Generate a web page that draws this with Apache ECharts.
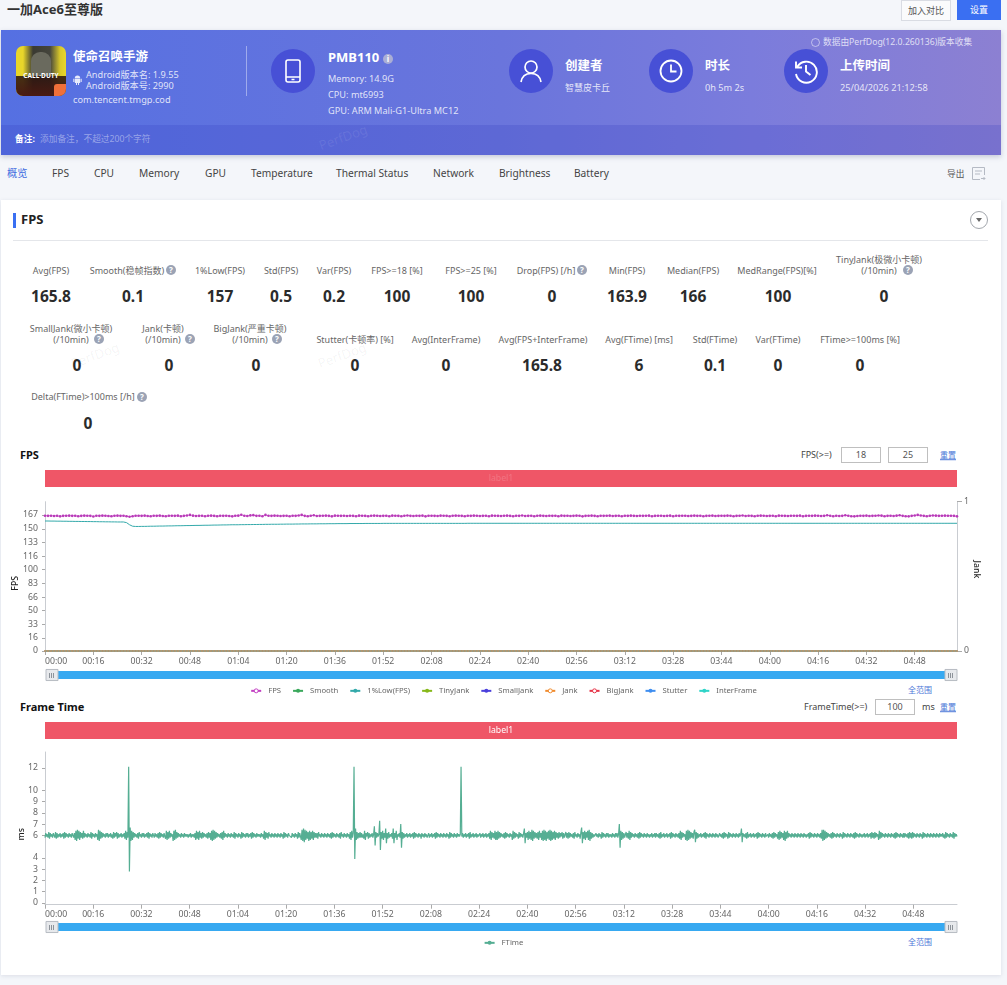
<!DOCTYPE html>
<html lang="zh-CN"><head><meta charset="utf-8"><title>一加Ace6至尊版</title>
<script src="https://cdn.jsdelivr.net/npm/echarts@6/dist/echarts.min.js"></script>
<style>
html,body{margin:0;padding:0;width:1007px;height:985px;overflow:hidden;background:#f4f6fa;font-family:"Noto Sans","Noto Sans CJK SC",sans-serif;color:#444}
.t{position:absolute;white-space:nowrap;line-height:1.2;transform:translateY(-50%)}
.c{transform:translate(-50%,-50%)}
.banner{position:absolute;left:1px;top:30px;width:1000px;height:125px;background:linear-gradient(90deg,#5570e2 0%,#6a75dc 50%,#7b7cdc 75%,#8c80d2 100%);box-shadow:0 2px 5px rgba(60,70,120,.25)}
.strip{position:absolute;left:1px;top:125px;width:1000px;height:30px;background:rgba(50,60,190,.22)}
.w{color:#fff}.s{color:rgba(255,255,255,.82);font-size:9.2px}
.h{color:#fff;font-weight:700;font-size:12.5px}
.circle{position:absolute;width:44px;height:44px;border-radius:50%;background:#4750d6}
.circle svg{position:absolute;left:9px;top:9px}
.card{position:absolute;left:1px;top:200px;width:1000px;height:775px;background:#fff;box-shadow:0 1px 4px rgba(80,90,120,.15)}
.nav{font-size:10.2px;color:#444}
.l{font-size:9px;color:#666}
.v{font-size:15.5px;font-weight:700;color:#2b2b2b}
.q{position:absolute;width:10px;height:10px;border-radius:50%;background:#9ba3b5;color:#fff;font-size:8px;line-height:10px;text-align:center;font-weight:700;transform:translate(-50%,-50%)}
.box{position:absolute;height:14px;border:1px solid #bfbfbf;font-size:9px;line-height:14px;text-align:center;color:#555;background:#fff}
.link{color:#4d78d8;font-size:8px;text-decoration:underline}
.wm{position:absolute;font-size:13px;color:rgba(0,0,0,.05);transform:translate(-50%,-50%) rotate(-20deg);white-space:nowrap}
#main{position:absolute;left:0;top:0;width:1007px;height:985px}
.grip{position:absolute;width:5px;height:5px;z-index:3;background:repeating-linear-gradient(90deg,#8d939a 0 1px,transparent 1px 2px)}
</style></head><body>
<div class="t" style="left:7px;top:10px;font-size:13px;font-weight:700;color:#333">一加Ace6至尊版</div>
<div style="position:absolute;left:901px;top:0;width:48px;height:19px;border:1px solid #d9dce3;background:#fafbfc;font-size:9px;line-height:19px;text-align:center;color:#555">加入对比</div>
<div style="position:absolute;left:957px;top:0;width:44px;height:20px;background:#3a6ff2;font-size:9px;line-height:20px;text-align:center;color:#fff">设置</div>

<div class="banner"></div><div class="strip"></div>
<div style="position:absolute;left:16px;top:46px;width:50px;height:50px;border-radius:7px;overflow:hidden;background:linear-gradient(90deg,#e8d62a 0%,#e8d62a 14%,#3a3a32 34%,#45453c 68%,#d9c82a 88%,#e8d62a 100%)">
  <div style="position:absolute;left:0;top:30px;width:50px;height:20px;background:linear-gradient(180deg,rgba(40,20,15,.85),#4a1a12)"></div>
  <div style="position:absolute;left:15px;top:6px;width:20px;height:24px;border-radius:9px 9px 4px 4px;background:#6a6a5e"></div>
  <div style="position:absolute;left:0;top:27px;width:50px;text-align:center;font-size:6.5px;font-weight:700;color:#fff;line-height:1">CALL·DUTY</div>
  <div style="position:absolute;left:38px;top:38px;width:12px;height:12px;background:#f0703a;border-radius:3px 0 0 0"></div>
</div>
<div class="t h" style="left:73px;top:56px">使命召唤手游</div>
<svg style="position:absolute;left:73px;top:75px" width="9" height="10" viewBox="0 0 9 10" fill="rgba(255,255,255,.85)"><path d="M1.8 3.2A2.7 2.7 0 0 1 7.2 3.2ZM1.8 3.7H7.2V7.6Q7.2 8.1 6.7 8.1H6V10H5V8.1H4V10H3V8.1H2.3Q1.8 8.1 1.8 7.6ZM.3 3.7H1.3V7H.3ZM7.7 3.7H8.7V7H7.7Z"/></svg>
<div class="t s" style="left:86px;top:75px">Android版本名: 1.9.55</div>
<div class="t s" style="left:86px;top:86px">Android版本号: 2990</div>
<div class="t s" style="left:73px;top:100px">com.tencent.tmgp.cod</div>
<div style="position:absolute;left:246px;top:46px;width:1px;height:50px;background:rgba(255,255,255,.4)"></div>

<div class="circle" style="left:271px;top:49px"><svg width="26" height="26" viewBox="0 0 26 26" fill="none" stroke="#fff" stroke-width="1.6"><rect x="6" y="2" width="14" height="22" rx="2"/><path d="M6 19H20M11.5 21.5H14.5"/></svg></div>
<div class="t h" style="left:328px;top:58px;font-size:13px">PMB110</div>
<div class="q" style="left:388px;top:59px;background:rgba(200,200,210,.7)">i</div>
<div class="t s" style="left:328px;top:79px">Memory: 14.9G</div>
<div class="t s" style="left:328px;top:95px">CPU: mt6993</div>
<div class="t s" style="left:328px;top:111px">GPU: ARM Mali-G1-Ultra MC12</div>

<div class="circle" style="left:509px;top:49px"><svg width="26" height="26" viewBox="0 0 26 26" fill="none" stroke="#fff" stroke-width="1.7"><circle cx="13" cy="9" r="6"/><path d="M3 24C4 18 8 15.5 13 15.5S22 18 23 24"/></svg></div>
<div class="t h" style="left:565px;top:65px">创建者</div>
<div class="t s" style="left:565px;top:88px;font-size:9px">智慧皮卡丘</div>
<div class="circle" style="left:649px;top:49px"><svg width="26" height="26" viewBox="0 0 26 26" fill="none" stroke="#fff" stroke-width="1.8"><circle cx="13" cy="13" r="10.5"/><path d="M13 6.5V13.5H18.5"/></svg></div>
<div class="t h" style="left:705px;top:65px">时长</div>
<div class="t s" style="left:705px;top:88px">0h 5m 2s</div>
<div class="circle" style="left:784px;top:49px"><svg width="26" height="26" viewBox="0 0 26 26" fill="none" stroke="#fff" stroke-width="1.9"><path d="M4.2 9A10.5 10.5 0 1 1 3 16"/><path d="M3 3.5V9.5H9"/><path d="M13 7V13.5L17.5 17"/></svg></div>
<div class="t h" style="left:840px;top:65px">上传时间</div>
<div class="t s" style="left:840px;top:88px">25/04/2026 21:12:58</div>
<div style="position:absolute;left:811px;top:38px;width:7px;height:7px;border:1px solid rgba(255,255,255,.5);border-radius:50%"></div>
<div class="t s" style="left:823px;top:42px;font-size:8.7px;color:rgba(255,255,255,.75)">数据由PerfDog(12.0.260136)版本收集</div>
<div class="t" style="left:15px;top:139px;font-size:8.7px;font-weight:700;color:#fff">备注:</div>
<div class="t" style="left:40px;top:139px;font-size:8.7px;color:rgba(255,255,255,.42)">添加备注，不超过200个字符</div>
<div class="wm" style="left:343px;top:137px;color:rgba(255,255,255,.09)">PerfDog</div>

<div class="t nav" style="left:7px;top:173px;color:#3f6ce0">概览</div>
<div class="t nav" style="left:52px;top:173px">FPS</div>
<div class="t nav" style="left:94px;top:173px">CPU</div>
<div class="t nav" style="left:139px;top:173px">Memory</div>
<div class="t nav" style="left:205px;top:173px">GPU</div>
<div class="t nav" style="left:251px;top:173px">Temperature</div>
<div class="t nav" style="left:336px;top:173px">Thermal Status</div>
<div class="t nav" style="left:433px;top:173px">Network</div>
<div class="t nav" style="left:499px;top:173px">Brightness</div>
<div class="t nav" style="left:574px;top:173px">Battery</div>
<div class="t" style="left:947px;top:174px;font-size:8.7px;color:#555">导出</div>
<svg style="position:absolute;left:971px;top:166px" width="15" height="15" viewBox="0 0 15 15" fill="none" stroke="#b5bac4"><path d="M1.5 1.5H13.5V9M1.5 1.5V13.5H9M4 5H11M4 8H9M10 12.5H14M12.5 11L14 12.5L12.5 14"/></svg>

<div class="card"></div>
<div style="position:absolute;left:13px;top:213px;width:3px;height:15px;background:#3a6ff2"></div>
<div class="t" style="left:21px;top:220px;font-size:13px;font-weight:700;color:#222">FPS</div>
<div style="position:absolute;left:13px;top:240px;width:975px;height:1px;background:#e4e6ea"></div>
<div style="position:absolute;left:970px;top:211px;width:16px;height:16px;border:1px solid #a3a7ad;border-radius:50%"></div>
<div style="position:absolute;left:976px;top:218px;border:3px solid transparent;border-top:4px solid #666"></div>

<div class="t c l" style="left:51px;top:271px">Avg(FPS)</div><div class="t c v" style="left:51px;top:296px">165.8</div>
<div class="t c l" style="left:127px;top:271px">Smooth(稳帧指数)</div><div class="q" style="left:171px;top:270px">?</div><div class="t c v" style="left:133px;top:296px">0.1</div>
<div class="t c l" style="left:220px;top:271px">1%Low(FPS)</div><div class="t c v" style="left:220px;top:296px">157</div>
<div class="t c l" style="left:281px;top:271px">Std(FPS)</div><div class="t c v" style="left:281px;top:296px">0.5</div>
<div class="t c l" style="left:334px;top:271px">Var(FPS)</div><div class="t c v" style="left:334px;top:296px">0.2</div>
<div class="t c l" style="left:397px;top:271px">FPS&gt;=18 [%]</div><div class="t c v" style="left:397px;top:296px">100</div>
<div class="t c l" style="left:471px;top:271px">FPS&gt;=25 [%]</div><div class="t c v" style="left:471px;top:296px">100</div>
<div class="t c l" style="left:546px;top:271px">Drop(FPS) [/h]</div><div class="q" style="left:582px;top:270px">?</div><div class="t c v" style="left:552px;top:296px">0</div>
<div class="t c l" style="left:627px;top:271px">Min(FPS)</div><div class="t c v" style="left:627px;top:296px">163.9</div>
<div class="t c l" style="left:693px;top:271px">Median(FPS)</div><div class="t c v" style="left:693px;top:296px">166</div>
<div class="t c l" style="left:777px;top:271px">MedRange(FPS)[%]</div><div class="t c v" style="left:778px;top:296px">100</div>
<div class="t c l" style="left:879px;top:260px">TinyJank(极微小卡顿)</div><div class="t c l" style="left:879px;top:271px">(/10min)</div><div class="q" style="left:908px;top:270px">?</div><div class="t c v" style="left:884px;top:296px">0</div>

<div class="t c l" style="left:71px;top:329px">SmallJank(微小卡顿)</div><div class="t c l" style="left:71px;top:340px">(/10min)</div><div class="q" style="left:99px;top:339px">?</div><div class="t c v" style="left:77px;top:365px">0</div>
<div class="t c l" style="left:163px;top:329px">Jank(卡顿)</div><div class="t c l" style="left:163px;top:340px">(/10min)</div><div class="q" style="left:190px;top:339px">?</div><div class="t c v" style="left:169px;top:365px">0</div>
<div class="t c l" style="left:250px;top:329px">BigJank(严重卡顿)</div><div class="t c l" style="left:250px;top:340px">(/10min)</div><div class="q" style="left:277px;top:339px">?</div><div class="t c v" style="left:256px;top:365px">0</div>
<div class="t c l" style="left:355px;top:340px">Stutter(卡顿率) [%]</div><div class="t c v" style="left:355px;top:365px">0</div>
<div class="t c l" style="left:446px;top:340px">Avg(InterFrame)</div><div class="t c v" style="left:446px;top:365px">0</div>
<div class="t c l" style="left:543px;top:340px">Avg(FPS+InterFrame)</div><div class="t c v" style="left:542px;top:365px">165.8</div>
<div class="t c l" style="left:639px;top:340px">Avg(FTime) [ms]</div><div class="t c v" style="left:639px;top:365px">6</div>
<div class="t c l" style="left:715px;top:340px">Std(FTime)</div><div class="t c v" style="left:715px;top:365px">0.1</div>
<div class="t c l" style="left:778px;top:340px">Var(FTime)</div><div class="t c v" style="left:778px;top:365px">0</div>
<div class="t c l" style="left:860px;top:340px">FTime&gt;=100ms [%]</div><div class="t c v" style="left:860px;top:365px">0</div>
<div class="t c l" style="left:83px;top:397px">Delta(FTime)&gt;100ms [/h]</div><div class="q" style="left:142px;top:397px">?</div><div class="t c v" style="left:88px;top:423px">0</div>
<div class="wm" style="left:95px;top:355px">PerfDog</div><div class="wm" style="left:342px;top:355px">PerfDog</div>

<div class="t" style="left:20px;top:455px;font-size:11px;font-weight:700;color:#111">FPS</div>
<div class="t l" style="left:801px;top:455px;color:#444">FPS(&gt;=)</div>
<div class="box" style="left:841px;top:447px;width:38px">18</div>
<div class="box" style="left:888px;top:447px;width:38px">25</div>
<div class="t link" style="left:940px;top:455px">重置</div>
<div class="t link" style="left:908px;top:690px;text-decoration:none">全范围</div>

<div class="t" style="left:20px;top:707px;font-size:11px;font-weight:700;color:#111">Frame Time</div>
<div class="t l" style="left:804px;top:707px;color:#444">FrameTime(&gt;=)</div>
<div class="box" style="left:875px;top:699px;width:38px">100</div>
<div class="t l" style="left:922px;top:707px;color:#444">ms</div>
<div class="t link" style="left:940px;top:707px">重置</div>
<div class="t link" style="left:908px;top:942px;text-decoration:none">全范围</div>

<div id="main"></div>
<div class="grip" style="left:49px;top:673px"></div><div class="grip" style="left:948px;top:673px"></div>
<div class="grip" style="left:49px;top:925px"></div><div class="grip" style="left:948px;top:925px"></div>

<script>
// FPS per second (0 s .. 302 s)
const fpsValues = [
166.0,165.9,166.1,165.8,166.0,165.3,165.9,166.0,166.2,165.9,
166.0,165.5,165.9,166.2,166.0,165.9,165.2,166.0,165.9,166.2,
166.0,165.8,165.5,166.0,166.2,165.9,166.0,165.5,164.9,165.5,
166.0,166.0,165.9,166.2,165.8,165.5,166.0,165.9,166.2,165.8,
165.5,166.0,166.0,165.9,166.2,165.5,165.9,166.4,167.1,166.2,
165.8,165.9,166.0,165.5,166.0,166.2,165.9,165.5,166.0,165.9,
166.0,165.8,165.3,166.0,166.2,167.2,166.0,165.8,166.5,166.8,
165.9,166.0,165.5,167.1,166.0,165.9,166.2,166.0,165.8,165.9,
166.0,165.5,166.0,165.9,166.4,167.1,165.9,165.5,166.0,166.6,
165.8,165.9,166.0,166.2,165.9,165.3,166.2,166.0,165.9,166.0,
165.8,166.0,165.9,165.5,166.2,166.0,165.9,165.5,166.0,166.2,
166.0,165.8,165.9,166.0,165.5,166.2,166.0,165.9,165.5,166.0,
166.4,165.9,165.8,166.0,165.9,166.2,165.3,166.0,166.0,165.9,
165.8,166.2,166.0,165.9,165.5,166.0,166.2,166.0,165.9,165.5,
166.0,165.9,166.2,166.0,165.8,165.9,166.0,165.5,166.2,166.0,
165.9,165.8,166.0,166.2,165.9,165.5,166.0,165.9,166.4,165.8,
165.9,166.0,165.5,166.0,166.2,165.9,165.8,166.0,165.9,166.0,
165.5,166.2,165.9,166.0,165.8,165.9,166.2,166.0,165.3,165.9,
166.0,166.2,165.9,165.5,166.0,165.9,166.0,166.2,165.8,165.9,
166.0,165.5,166.0,165.9,166.2,165.9,165.8,166.0,165.9,166.0,
166.2,165.5,165.9,166.0,166.0,165.8,165.9,166.2,165.5,166.0,
165.9,166.0,166.0,165.8,165.9,166.2,165.9,166.0,165.5,165.9,
166.0,166.2,165.8,165.9,166.0,165.9,166.2,166.0,165.5,165.9,
166.0,166.4,165.8,166.0,165.9,165.5,166.0,166.2,166.0,165.8,
165.9,166.0,165.5,166.2,166.0,165.9,165.8,166.0,166.0,165.9,
166.2,165.5,165.9,166.0,165.9,166.2,166.0,165.8,165.9,166.6,
166.0,165.5,166.0,165.8,165.9,166.6,166.0,165.5,165.3,165.8,
166.0,165.9,166.2,165.8,165.9,166.0,166.4,166.2,165.5,165.9,
166.0,165.8,166.2,166.6,165.9,165.5,165.3,165.9,166.4,167.1,
166.4,165.9,165.5,166.0,166.4,166.2,165.9,166.0,166.2,166.0,
166.0,165.9,165.3];
// 1%Low(FPS) per second
const lowValues = [
159.6,159.6,159.5,159.5,159.4,159.4,159.3,159.3,159.2,159.2,
159.1,159.1,159.0,159.0,158.9,158.9,158.8,158.8,158.7,158.7,
158.6,158.6,158.5,158.5,158.4,158.4,158.4,157.6,155.0,153.2,
152.9,152.9,153.0,153.0,153.1,153.2,153.2,153.3,153.4,153.4,
153.5,153.6,153.6,153.7,153.8,153.8,153.9,154.0,154.0,154.1,
154.2,154.2,154.3,154.4,154.4,154.5,154.6,154.6,154.7,154.8,
154.8,154.9,155.0,155.0,155.0,155.1,155.1,155.2,155.2,155.3,
155.3,155.4,155.4,155.5,155.5,155.6,155.6,155.6,155.7,155.7,
155.8,155.8,155.8,155.9,155.9,156.0,156.0,156.0,156.1,156.1,
156.1,156.2,156.2,156.2,156.3,156.3,156.3,156.4,156.4,156.4,
156.4,156.5,156.5,156.5,156.5,156.5,156.6,156.6,156.6,156.6,
156.6,156.6,156.7,156.7,156.7,156.7,156.7,156.7,156.7,156.7,
156.7,156.7,156.7,156.7,156.7,156.7,156.7,156.7,156.7,156.7,
156.7,156.7,156.7,156.7,156.7,156.7,156.7,156.7,156.7,156.7,
156.8,156.8,156.8,156.8,156.8,156.8,156.8,156.8,156.8,156.8,
156.8,156.8,156.8,156.8,156.8,156.8,156.8,156.8,156.8,156.8,
156.8,156.8,156.8,156.8,156.8,156.8,156.8,156.8,156.8,156.8,
156.8,156.8,156.8,156.8,156.8,156.8,156.8,156.8,156.8,156.8,
156.8,156.8,156.8,156.8,156.8,156.8,156.8,156.8,156.8,156.8,
156.8,156.8,156.8,156.8,156.8,156.8,156.8,156.8,156.8,156.8,
156.8,156.8,156.8,156.8,156.8,156.8,156.8,156.8,156.8,156.8,
156.8,156.8,156.8,156.8,156.8,156.8,156.8,156.8,156.8,156.8,
156.8,156.8,156.8,156.8,156.8,156.8,156.8,156.8,156.8,156.8,
156.8,156.8,156.8,156.8,156.8,156.8,156.8,156.8,156.8,156.8,
156.8,156.8,156.8,156.8,156.8,156.8,156.8,156.8,156.8,156.8,
156.8,156.8,156.8,156.8,156.8,156.8,156.8,156.8,156.8,156.8,
156.8,156.8,156.8,156.8,156.8,156.8,156.8,156.8,156.8,156.8,
156.8,156.8,156.8,156.8,156.8,156.8,156.8,156.8,156.8,156.8,
156.8,156.8,156.8,156.8,156.8,156.8,156.8,156.8,156.8,156.8,
156.8,156.8,156.8,156.8,156.8,156.8,156.8,156.8,156.8,156.8,
156.8,156.8,156.8];
// Smooth, TinyJank, SmallJank, Jank, BigJank, Stutter, InterFrame all read 0 along the run
const zeroValues = [
0,0,0,0,0,0,0,0,0,0,0,0,0,0,0,0,0,0,0,0,0,0,0,0,0,0,0,0,0,0,0,0,0,0,0,0,0,0,0,0,0,0,0,0,0,0,0,0,0,0,
0,0,0,0,0,0,0,0,0,0,0,0,0,0,0,0,0,0,0,0,0,0,0,0,0,0,0,0,0,0,0,0,0,0,0,0,0,0,0,0,0,0,0,0,0,0,0,0,0,0,
0,0,0,0,0,0,0,0,0,0,0,0,0,0,0,0,0,0,0,0,0,0,0,0,0,0,0,0,0,0,0,0,0,0,0,0,0,0,0,0,0,0,0,0,0,0,0,0,0,0,
0,0,0,0,0,0,0,0,0,0,0,0,0,0,0,0,0,0,0,0,0,0,0,0,0,0,0,0,0,0,0,0,0,0,0,0,0,0,0,0,0,0,0,0,0,0,0,0,0,0,
0,0,0,0,0,0,0,0,0,0,0,0,0,0,0,0,0,0,0,0,0,0,0,0,0,0,0,0,0,0,0,0,0,0,0,0,0,0,0,0,0,0,0,0,0,0,0,0,0,0,
0,0,0,0,0,0,0,0,0,0,0,0,0,0,0,0,0,0,0,0,0,0,0,0,0,0,0,0,0,0,0,0,0,0,0,0,0,0,0,0,0,0,0,0,0,0,0,0,0,0,
0,0,0];
// FTime in ms, four readings per second
const ftimeValues = [
5.8,6.2,5.9,6.1,5.8,6.3,5.7,6.2,5.9,6.1,
5.8,6.2,6.0,5.8,6.3,5.7,6.2,5.8,6.1,5.9,
6.2,5.8,6.1,5.9,6.2,5.7,6.3,5.8,6.2,5.9,
6.1,5.8,6.2,5.9,6.1,5.8,6.2,6.0,5.8,6.2,
5.6,6.4,5.5,6.5,5.7,6.4,5.6,6.3,5.8,6.2,
5.7,6.4,5.8,6.2,5.9,6.1,5.8,6.2,5.9,6.1,
5.8,6.3,5.7,6.2,5.9,6.1,5.8,6.2,5.9,6.1,
5.6,6.5,5.5,6.4,5.7,6.3,5.8,6.2,5.9,6.1,
5.8,6.2,5.9,6.2,5.8,6.1,5.9,6.2,5.8,6.1,
5.7,6.3,5.8,6.2,5.9,6.3,5.7,6.2,5.8,6.1,
5.9,6.2,5.8,6.1,5.9,6.2,5.7,6.4,5.6,6.3,
5.8,12.1,2.8,6.7,5.5,6.4,5.6,6.3,5.8,6.2,
5.9,6.1,5.8,6.2,5.7,6.3,5.9,6.1,5.8,6.2,
5.9,6.2,5.8,6.1,5.9,6.2,5.8,6.3,5.7,6.2,
5.9,6.1,5.8,6.2,6.0,5.8,6.2,5.9,6.1,5.8,
6.2,5.7,6.3,5.8,6.2,5.9,6.1,5.8,6.2,5.9,
5.7,6.4,5.6,6.3,5.7,6.4,5.8,6.2,5.9,6.1,
5.5,6.4,5.6,6.5,5.7,6.3,5.8,6.2,5.9,6.1,
5.8,6.2,5.9,6.1,5.8,6.2,5.9,6.1,5.9,6.1,
5.8,6.1,5.9,6.2,5.8,6.1,5.9,6.1,5.8,6.2,
5.6,6.4,5.7,6.3,5.6,6.4,5.8,6.2,5.7,6.3,
5.8,6.2,5.9,6.1,5.8,6.2,5.7,6.3,5.8,6.2,
5.6,6.4,5.5,6.5,5.6,6.4,5.7,6.3,5.8,6.2,
5.9,6.1,5.8,6.2,5.7,6.3,5.6,6.4,5.8,6.2,
5.9,6.1,5.8,6.2,5.9,6.1,5.8,6.2,5.9,6.1,
5.8,6.3,5.7,6.2,5.9,6.1,5.8,6.2,5.9,6.1,
5.7,6.3,5.8,6.2,5.9,6.1,5.8,6.2,5.9,6.2,
5.8,6.1,5.9,6.2,5.7,6.3,5.8,6.2,5.9,6.1,
5.8,6.2,5.9,6.1,5.9,6.1,5.8,6.2,5.9,6.1,
5.7,6.4,5.6,6.3,5.8,6.2,5.7,6.3,5.9,6.1,
5.8,6.2,5.9,6.1,5.8,6.2,5.9,6.1,5.8,6.2,
5.9,6.1,5.8,6.2,5.9,6.1,5.7,6.3,5.8,6.2,
5.9,6.1,5.8,6.2,6.0,5.9,6.1,5.8,6.2,5.9,
6.1,5.8,6.2,5.9,6.1,5.7,6.3,5.8,6.2,5.9,
5.6,6.5,5.5,6.6,5.4,6.5,5.6,6.4,5.7,6.3,
5.5,6.4,5.6,6.3,5.7,6.4,5.6,6.3,5.8,6.2,
5.8,6.2,5.7,6.3,5.9,6.1,5.8,6.2,5.9,6.1,
5.8,6.2,5.9,6.1,5.8,6.2,5.9,6.1,5.8,6.2,
5.7,6.3,5.8,6.2,5.9,6.1,5.8,6.2,5.9,6.1,
5.8,6.2,5.7,6.3,5.9,6.1,5.8,6.2,5.9,6.1,
5.8,6.2,5.9,6.1,5.7,6.3,5.6,6.4,5.8,6.2,
12.1,3.9,6.6,5.6,6.3,5.7,6.2,5.8,6.3,5.8,
6.2,5.8,6.1,5.7,6.4,5.6,6.2,5.9,6.3,5.7,
6.2,5.8,6.1,5.9,6.2,5.8,6.1,6.8,5.1,6.3,
5.8,6.2,5.9,6.1,7.3,4.7,6.3,5.7,6.4,5.6,
6.2,5.8,6.6,5.3,6.2,5.7,6.3,5.8,6.1,5.9,
6.2,5.7,6.6,5.3,6.2,5.8,6.4,5.6,6.1,5.9,
6.2,5.8,7.0,4.9,6.3,5.7,6.2,5.8,6.1,5.9,
6.2,5.8,6.1,5.9,6.2,5.8,6.1,5.9,6.2,5.7,
6.3,5.8,6.2,5.9,6.1,5.8,6.2,5.9,6.1,5.7,
6.2,5.9,6.1,5.8,6.2,5.9,6.1,5.8,6.0,6.2,
5.8,6.1,5.9,6.2,5.8,6.1,5.9,6.2,5.7,6.3,
5.8,6.2,5.9,6.1,5.8,6.2,5.9,6.1,5.8,6.2,
5.9,6.1,5.8,6.2,5.9,6.1,5.7,6.3,5.8,6.2,
5.9,6.1,5.8,6.2,5.9,6.1,5.8,6.2,5.9,6.1,
5.9,6.1,12.1,5.9,6.2,5.8,6.1,5.9,6.2,5.8,
6.1,5.9,6.2,5.7,6.3,5.8,6.1,5.9,6.2,5.8,
6.1,5.9,6.2,5.8,6.1,5.9,6.0,6.2,5.8,6.1,
5.9,6.2,5.8,6.1,5.9,6.2,5.8,6.1,5.9,6.2,
5.7,6.4,5.6,6.3,5.8,6.2,5.7,6.4,5.6,6.3,
5.6,6.4,5.7,6.3,5.8,6.2,5.9,6.1,5.8,6.2,
5.7,6.3,5.8,6.2,5.9,6.1,5.8,6.2,5.9,6.1,
5.6,6.4,5.7,6.3,5.8,6.2,5.9,6.1,5.7,6.3,
5.8,6.2,5.9,6.1,5.8,6.2,6.6,5.3,6.2,5.8,
6.3,5.6,6.4,5.7,6.3,5.6,6.5,5.5,6.4,5.7,
6.3,5.8,6.2,5.7,6.3,5.6,6.4,5.8,6.2,5.6,
6.4,5.5,6.5,5.6,6.4,5.5,6.3,5.7,6.4,5.6,
6.5,5.5,6.4,5.6,6.3,5.7,6.4,5.6,6.3,5.8,
6.2,5.7,6.3,5.8,6.2,5.9,6.3,5.7,6.2,5.8,
5.7,6.3,5.8,6.2,5.7,6.3,5.8,6.2,5.9,6.1,
5.8,6.2,5.7,6.3,5.9,6.1,5.8,6.2,5.9,6.1,
5.7,6.3,6.7,5.3,6.3,5.7,6.4,5.6,6.3,5.8,
6.4,5.6,6.5,5.5,6.3,5.7,6.2,5.8,6.1,5.9,
5.8,6.2,5.9,6.1,5.8,6.2,5.9,6.1,5.7,6.3,
5.8,6.2,5.9,6.1,5.8,6.2,5.9,6.2,5.8,6.1,
5.9,6.1,5.8,6.2,5.9,6.1,5.8,6.2,5.9,6.2,
5.8,6.1,7.0,4.9,6.4,5.6,6.3,5.7,6.2,5.8,
5.7,6.3,5.8,6.2,5.7,6.4,5.6,6.3,5.8,6.2,
5.9,6.1,5.8,6.2,5.9,6.1,5.8,6.2,5.7,6.3,
5.8,6.2,5.9,6.1,5.8,6.2,5.9,6.1,5.8,6.2,
5.9,6.1,5.8,6.1,5.9,6.2,5.8,6.1,5.9,6.2,
5.8,6.2,5.9,6.1,5.8,6.2,5.7,6.3,5.8,6.1,
5.9,6.2,5.8,6.1,5.9,6.2,5.8,6.1,5.9,6.2,
5.7,6.3,5.8,6.2,5.9,6.1,5.8,6.2,5.9,6.1,
5.8,6.2,5.7,6.4,5.6,6.3,5.8,6.2,5.9,6.1,
5.6,6.4,5.5,6.5,5.6,6.4,5.7,6.3,5.8,6.2,
5.7,6.3,6.5,5.4,6.3,5.7,6.2,5.8,6.1,5.9,
6.2,5.8,6.1,5.9,6.2,5.8,6.3,5.7,6.2,5.9,
6.1,5.8,6.2,5.9,6.1,5.8,6.2,5.9,6.1,5.8,
6.2,5.9,6.1,5.8,6.0,6.2,5.9,6.1,5.8,6.2,
5.7,6.3,5.8,6.2,5.9,6.1,5.7,6.3,5.8,6.2,
5.9,6.1,5.8,6.2,5.9,6.1,5.8,6.2,5.9,6.1,
5.8,6.2,5.9,6.1,6.6,5.4,6.2,5.9,6.1,5.8,
6.2,5.7,6.3,5.8,6.1,5.9,6.2,5.8,6.1,5.9,
6.2,5.8,6.1,5.9,6.2,5.7,6.3,5.8,6.2,5.9,
6.1,5.8,6.2,5.9,6.1,5.8,6.2,5.9,6.0,6.1,
5.8,6.2,5.9,6.1,5.8,6.2,5.7,6.3,5.8,6.2,
5.9,6.1,5.7,6.3,5.6,6.4,5.7,6.3,5.8,6.2,
5.6,6.4,5.5,6.3,5.7,6.4,5.8,6.2,5.9,6.1,
5.8,6.2,5.9,6.1,5.8,6.2,5.9,6.1,5.8,6.2,
5.9,6.1,5.8,6.2,5.9,6.1,5.8,6.2,5.9,6.1,
5.8,6.1,5.9,6.2,5.7,6.3,5.8,6.2,5.9,6.1,
5.8,6.2,5.9,6.1,5.8,6.2,5.9,6.1,5.8,6.2,
5.7,6.5,5.5,6.5,5.6,6.4,5.7,6.3,5.8,6.2,
5.9,6.1,5.8,6.2,5.7,6.3,5.8,6.2,5.9,6.1,
5.8,6.2,5.9,6.1,5.8,6.2,5.9,6.1,5.7,6.3,
5.8,6.2,5.9,6.1,5.8,6.2,5.9,6.1,5.8,6.2,
5.9,6.1,5.8,6.2,5.7,6.3,5.8,6.2,5.9,6.1,
5.8,6.2,5.9,6.1,5.8,6.1,5.9,6.2,5.8,6.1,
5.9,6.2,5.8,6.1,5.9,6.2,5.7,6.3,5.8,6.2,
5.7,6.3,5.8,6.2,5.9,6.1,5.6,6.4,5.7,6.3,
5.8,6.2,5.9,6.1,5.8,6.2,5.9,6.1,5.8,6.2,
5.9,6.1,5.8,6.2,5.9,6.1,5.8,6.2,5.7,6.3,
5.8,6.2,5.9,6.1,5.8,6.2,5.9,6.1,5.8,6.2,
5.8,6.2,5.9,6.1,5.8,6.2,5.7,6.3,5.8,6.2,
5.7,6.3,5.8,6.2,5.9,6.1,5.8,6.2,5.9,6.1,
5.8,6.2,5.9,6.1,5.7,6.3,5.8,6.2,5.9,6.1,
5.8,6.2,5.9,6.1,5.8,6.2,5.9,6.1,5.8,6.2,
5.9,6.1,5.8,6.2,5.9,6.1,5.8,6.2,5.9,6.1,
5.9,6.2,5.8,6.1,5.7,6.3,5.8,6.2,5.9,6.1,
5.8,6.2,5.9,6.1,5.8,6.3,5.7,6.2,5.9,6.1,
5.9];

const fpsAxisTicks = [0,16,33,50,66,83,100,116,133,150,167];
const jankAxisTicks = [0,1];
const msAxisTicks = [0,1,2,3,4,6,7,8,9,10,12];
const bandLabel = ['label1'];
const fpsBandSpan = [302];
const ftimeBandSpan = [302];

const mmss = s => String(Math.floor(s/60)).padStart(2,'0')+':'+String(Math.floor(s%60)).padStart(2,'0');
const fpsTimes = fpsValues.map((_,i)=>mmss(i));
const ftimeTimes = ftimeValues.map((_,i)=>mmss(i/4));

const FONT = '"Noto Sans","Noto Sans CJK SC",sans-serif';
const AXC = '#c9ccd1';
const lab = {color:'#666',fontSize:8.7,fontFamily:FONT};
const catAxis = (grid,data,every,margin)=>({
  type:'category',gridIndex:grid,data,boundaryGap:false,
  axisLine:{onZero:false,lineStyle:{color:AXC}},
  axisTick:{interval:every-1,alignWithLabel:true,length:4,lineStyle:{color:'#aaa'}},
  axisLabel:{...lab,interval:every-1,alignMinLabel:'left',margin},
  splitLine:{show:false}
});
const valAxis = (grid,o)=>Object.assign({
  type:'value',gridIndex:grid,splitLine:{show:false},
  axisLine:{show:true,lineStyle:{color:AXC}},axisTick:{show:true,length:3,lineStyle:{color:'#aaa'}},
  nameLocation:'middle',nameMoveOverlap:false
},o);
const nameStyle = pad=>({color:'#222',fontSize:8.7,fontFamily:FONT,fontWeight:500,padding:[0,pad,0,0]});
const hideX = g=>({type:'value',gridIndex:g,min:0,max:302,show:false});
const hideY = g=>({type:'category',gridIndex:g,data:bandLabel,show:false});
const band = (x,y,d,color)=>({type:'bar',xAxisIndex:x,yAxisIndex:y,data:d,barWidth:'100%',silent:true,
  itemStyle:{color:'#ef5667'},
  label:{show:true,position:'inside',formatter:bandLabel[0],color,fontSize:8.7,fontFamily:FONT}});
const line = (name,data,color,extra)=>Object.assign({
  type:'line',name,data,xAxisIndex:1,yAxisIndex:1,symbol:'none',color,
  lineStyle:{color,width:1},itemStyle:{color},silent:true,emphasis:{disabled:true}
},extra);
const marked = (c,size)=>({symbol:'circle',symbolSize:size,showSymbol:true,showAllSymbol:true,itemStyle:{color:c,borderWidth:0}});
const slider = (axis,top)=>({type:'slider',xAxisIndex:axis,left:49.5,right:56.5,top,height:8,start:0,end:100,
  filterMode:'none',showDetail:false,showDataShadow:false,brushSelect:false,moveHandleSize:0,realtime:false,
  backgroundColor:'rgba(0,0,0,0)',borderColor:'rgba(0,0,0,0)',fillerColor:'#37a9f1',
  handleIcon:'path://M0,0H13V12H0Z',handleSize:12,
  handleStyle:{color:'#e7e9ec',borderColor:'#b7bcc3',borderWidth:1}});
const legendBase = {orient:'horizontal',itemWidth:10,itemHeight:5,itemGap:11,
  textStyle:{color:'#666',fontSize:7.7,fontFamily:FONT,padding:[0,0,0,2]},selectedMode:false,
  lineStyle:{width:2}};
const ring = c=>({symbol:'emptyCircle',itemStyle:{color:'#fff',borderColor:c,borderWidth:1},lineStyle:{color:c,width:2}});
const fpsLegend = [
  {name:'FPS',...ring('#c23fc2')},{name:'Smooth'},{name:'1%Low(FPS)'},{name:'TinyJank'},{name:'SmallJank'},
  {name:'Jank',...ring('#f08a2c')},{name:'BigJank',...ring('#e53448')},{name:'Stutter'},{name:'InterFrame'}
];
const gridBase = {left:45,width:912,outerBoundsMode:'none'};

const chart = echarts.init(document.getElementById('main'),null,{renderer:'canvas'});
chart.setOption({
  animation:false,backgroundColor:'transparent',
  grid:[
    {...gridBase,top:470,height:17},
    {...gridBase,top:501.7,height:149.3},
    {...gridBase,top:722,height:17},
    {...gridBase,top:752,height:152.7}
  ],
  xAxis:[hideX(0),catAxis(1,fpsTimes,16,6),hideX(2),catAxis(3,ftimeTimes,64,5)],
  yAxis:[
    hideY(0),
    valAxis(1,{min:0,max:183.3,name:'FPS',nameGap:25,nameTextStyle:nameStyle(14),
      axisTick:{show:true,length:3,customValues:fpsAxisTicks,lineStyle:{color:'#aaa'}},
      axisLabel:{...lab,margin:7,customValues:fpsAxisTicks}}),
    valAxis(1,{min:0,max:1,position:'right',name:'Jank',nameGap:15,nameRotate:-90,nameTextStyle:nameStyle(14),
      axisTick:{show:true,length:5,customValues:jankAxisTicks,lineStyle:{color:'#aaa'}},
      axisLabel:{...lab,margin:7,customValues:jankAxisTicks}}),
    hideY(2),
    valAxis(3,{min:-0.15,max:13.4,name:'ms',nameGap:19,nameTextStyle:nameStyle(12),
      axisTick:{show:true,length:3,customValues:msAxisTicks,lineStyle:{color:'#aaa'}},
      axisLabel:{...lab,margin:7,customValues:msAxisTicks}})
  ],
  legend:[
    {...legendBase,data:fpsLegend,left:'center',top:682},
    {...legendBase,data:['FTime'],left:'center',top:934}
  ],
  dataZoom:[slider(1,671),slider(3,923)],
  series:[
    band(0,0,fpsBandSpan,'rgba(255,255,255,.18)'),
    band(2,3,ftimeBandSpan,'#fff'),
    line('Smooth',zeroValues,'#3aa85c'),
    line('TinyJank',zeroValues,'#86b81a',{yAxisIndex:2}),
    line('SmallJank',zeroValues,'#4a3fdc',{yAxisIndex:2}),
    line('Stutter',zeroValues,'#3f8ef0'),
    line('InterFrame',zeroValues,'#2fd4c8'),
    line('Jank',zeroValues,'#f08a2c',{yAxisIndex:2,...marked('#c8a070',2)}),
    line('BigJank',zeroValues,'#e53448',{yAxisIndex:2,lineStyle:{color:'#a99c80',width:1},...marked('#a08c70',1.6)}),
    line('1%Low(FPS)',lowValues,'#33a9aa'),
    line('FPS',fpsValues,'#c23fc2',{lineStyle:{color:'#d87ad8',width:1},...marked('#b83ab8',2.6)}),
    line('FTime',ftimeValues,'#55ae93',{xAxisIndex:3,yAxisIndex:4,sampling:null,lineStyle:{color:'#55ae93',width:1.2}})
  ]
});
</script>
</body></html>
